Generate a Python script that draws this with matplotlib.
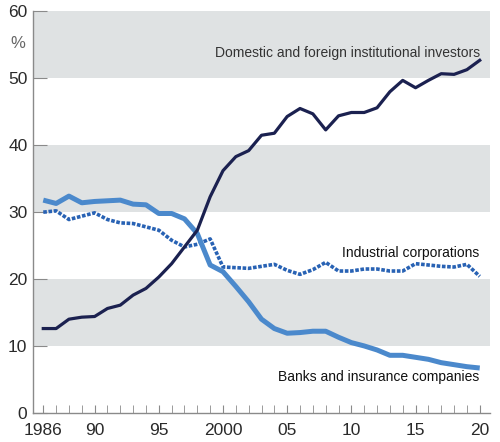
import matplotlib.pyplot as plt
from matplotlib import font_manager

# shares of listed equity by holder, %
years = list(range(1986, 2021))
institutional = [12.6, 12.6, 14.0, 14.3, 14.4, 15.6, 16.1, 17.6, 18.6, 20.3,
                 22.3, 24.8, 27.3, 32.3, 36.2, 38.3, 39.2, 41.5, 41.8, 44.3,
                 45.5, 44.7, 42.3, 44.4, 44.9, 44.9, 45.6, 48.0, 49.7, 48.6,
                 49.7, 50.7, 50.6, 51.3, 52.7]
banks = [31.8, 31.3, 32.4, 31.4, 31.6, 31.7, 31.8, 31.2, 31.1, 29.8,
         29.8, 29.0, 26.8, 22.1, 21.1, 18.9, 16.6, 14.0, 12.6, 11.9,
         12.0, 12.2, 12.2, 11.3, 10.5, 10.0, 9.4, 8.6, 8.6, 8.3,
         8.0, 7.5, 7.2, 6.9, 6.7]
industrial = [30.0, 30.2, 28.9, 29.4, 29.9, 28.9, 28.4, 28.3, 27.8, 27.3,
              25.8, 24.8, 25.2, 26.0, 21.8, 21.7, 21.6, 21.9, 22.2, 21.3,
              20.7, 21.4, 22.5, 21.2, 21.2, 21.5, 21.5, 21.2, 21.2, 22.3,
              22.1, 21.9, 21.8, 22.2, 20.4]

xtick_pos = [1986, 1990, 1995, 2000, 2005, 2010, 2015, 2020]
xtick_lab = ['1986', '90', '95', '2000', '05', '10', '15', '20']
yticks = [0, 10, 20, 30, 40, 50, 60]
bands = [(10, 20), (30, 40), (50, 60)]

names = {f.name for f in font_manager.fontManager.ttflist}
narrow = 'Liberation Sans Narrow' if 'Liberation Sans Narrow' in names else 'Liberation Sans'
plt.rcParams['font.family'] = ['Liberation Sans', 'DejaVu Sans']

fig = plt.figure(figsize=(5, 4.42), dpi=100)
ax = fig.add_axes([0.066, 0.066, 0.914, 0.908])

for lo, hi in bands:
    ax.axhspan(lo, hi, color='#dfe2e3', lw=0, zorder=0)

ax.plot(years, industrial, color='#2862b4', lw=2.6, ls=(0, (1.0, 0.45)), zorder=2)
ax.plot(years, banks, color='#4b89cc', lw=3.6, zorder=3, solid_capstyle='butt')
ax.plot(years, institutional, color='#1b2150', lw=2.3, zorder=4)

ax.set_xlim(1985.2, 2020.8)
ax.set_ylim(0, 60)
ax.set_xticks(xtick_pos)
ax.set_xticklabels(xtick_lab)
ax.set_xticks(years, minor=True)
ax.set_yticks(yticks)

for s in ['top', 'right']:
    ax.spines[s].set_visible(False)
for s in ['left', 'bottom']:
    ax.spines[s].set_color('#8a8a8a')
    ax.spines[s].set_linewidth(1.0)

ax.tick_params(axis='x', which='both', direction='in', length=6, color='#8a8a8a', pad=7)
ax.tick_params(axis='y', direction='in', length=10, color='#8a8a8a', pad=4)
for lab in ax.get_xticklabels() + ax.get_yticklabels():
    lab.set_family([narrow, 'DejaVu Sans'])
    lab.set_fontsize(12.5)
    lab.set_color('#2a2a2a')

ax.text(-0.033, 0.921, '%', transform=ax.transAxes, ha='center', va='center',
        fontsize=12, color='#666666')

ax.text(2020, 53.8, 'Domestic and foreign institutional investors', ha='right',
        va='center', fontsize=10, color='#333333')
ax.text(2020, 23.9, 'Industrial corporations', ha='right', va='center',
        fontsize=10, color='#111111')
ax.text(2020, 5.4, 'Banks and insurance companies', ha='right', va='center',
        fontsize=10, color='#111111')

fig.savefig('out.png', dpi=100)
